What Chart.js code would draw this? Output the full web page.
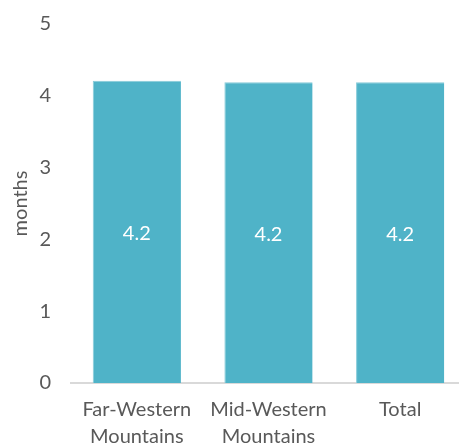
<!DOCTYPE html>
<html>
<head>
<meta charset="utf-8">
<script src="https://cdn.jsdelivr.net/npm/chart.js@4"></script>
<style>
  html, body { margin: 0; padding: 0; background: #fff; overflow: hidden; }
  #wrap { position: relative; width: 466px; height: 444px; }
</style>
</head>
<body>
<div id="wrap"><canvas id="chart"></canvas></div>
<script>
const CATEGORIES = [["Far-Western", "Mountains"], ["Mid-Western", "Mountains"], "Total"];
const MONTHS = [4.21, 4.19, 4.19];
const Y_TICKS = [0, 1, 2, 3, 4, 5];

const INK = "#595959";
const FONT = "Lato, 'Open Sans', sans-serif";

/** White value label in the middle of each bar. */
const barMidLabels = {
  id: "barMidLabels",
  afterDatasetsDraw(chart) {
    const { ctx } = chart;
    const meta = chart.getDatasetMeta(0);
    const values = chart.data.datasets[0].data;
    ctx.save();
    ctx.textAlign = "center";
    ctx.textBaseline = "middle";
    ctx.font = `20px ${FONT}`;
    ctx.fillStyle = "#ffffff";
    meta.data.forEach((bar, i) => {
      const { x, y, base } = bar.getProps(["x", "y", "base"], true);
      ctx.fillText(Number(values[i]).toFixed(1), x, (y + base) / 2 + 2);
    });
    ctx.restore();
  },
};

new Chart(document.getElementById("chart"), {
  type: "bar",
  data: {
    labels: CATEGORIES,
    datasets: [{
      data: MONTHS,
      backgroundColor: "#4fb3c8",
      borderColor: "#86cbd9",
      borderWidth: { top: 1, left: 1, right: 0, bottom: 0 },
      borderSkipped: false,
      barPercentage: 0.67,
      categoryPercentage: 1,
    }],
  },
  options: {
    responsive: true,
    maintainAspectRatio: false,
    animation: false,
    layout: { padding: { top: 24, left: 0, right: 0, bottom: 0 } },
    plugins: { legend: { display: false }, tooltip: { enabled: false } },
    scales: {
      x: {
        grid: { display: false, drawTicks: false },
        border: { display: true, color: "#d9d9d9", width: 2 },
        ticks: { color: INK, font: { family: FONT, size: 20, lineHeight: 1.35 }, padding: 13, maxRotation: 0 },
        afterFit(scale) {
          scale.height = 61;
          scale.paddingLeft = 0;
          scale.paddingRight = 0;
        },
      },
      y: {
        min: 0,
        max: 5,
        afterBuildTicks(scale) { scale.ticks = Y_TICKS.map((v) => ({ value: v })); },
        grid: { display: false, drawTicks: false },
        border: { display: false },
        ticks: { color: INK, font: { family: FONT, size: 20 }, padding: 20 },
        title: { display: true, text: "months", color: INK, font: { family: FONT, size: 20 }, padding: { top: 9, bottom: 0 } },
        afterFit(scale) {
          scale.width = 71;
          scale.paddingTop = 0;
          scale.paddingBottom = 0;
        },
      },
    },
  },
  plugins: [barMidLabels],
});
</script>
</body>
</html>
